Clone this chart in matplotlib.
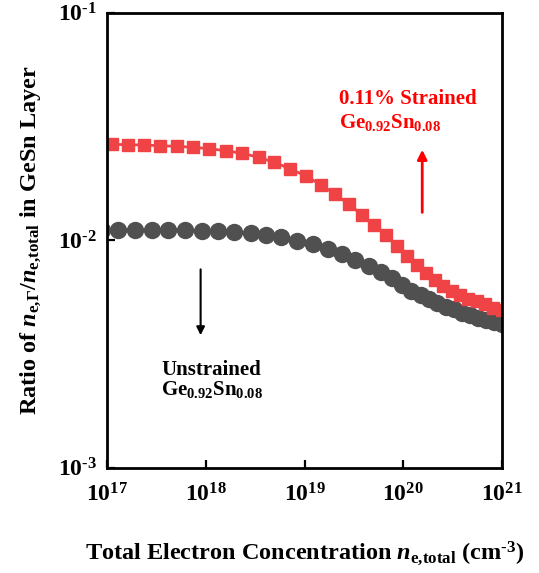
import numpy as np
import matplotlib
matplotlib.use('Agg')
import matplotlib.pyplot as plt
from matplotlib.ticker import FuncFormatter

# --- dados (n_e,total em cm^-3, razao n_e,G / n_e,total) ---
conc_tensionado = np.array([
    1.13e17, 1.64e17, 2.39e17, 3.47e17, 5.12e17, 7.48e17, 1.09e18, 1.60e18,
    2.34e18, 3.44e18, 4.94e18, 7.13e18, 1.03e19, 1.46e19, 2.02e19, 2.81e19,
    3.82e19, 5.06e19, 6.68e19, 8.59e19, 1.10e20, 1.37e20, 1.70e20, 2.08e20,
    2.55e20, 3.10e20, 3.76e20, 4.56e20, 5.55e20, 6.73e20, 8.17e20, 9.93e20])
razao_tensionado = np.array([
    0.02639, 0.02629, 0.02621, 0.02602, 0.02586, 0.02560, 0.02524, 0.02473,
    0.02409, 0.02314, 0.02199, 0.02062, 0.01915, 0.01754, 0.01596, 0.01442,
    0.01291, 0.01163, 0.01051, 0.00943, 0.00852, 0.00778, 0.00715, 0.00668,
    0.00629, 0.00598, 0.00574, 0.00554, 0.00538, 0.00522, 0.00506, 0.00493])

conc_relaxado = np.array([
    8.81e16, 1.30e17, 1.92e17, 2.84e17, 4.18e17, 6.17e17, 9.10e17, 1.32e18,
    1.93e18, 2.85e18, 4.05e18, 5.78e18, 8.45e18, 1.21e19, 1.73e19, 2.40e19,
    3.28e19, 4.45e19, 5.96e19, 7.69e19, 9.70e19, 1.21e20, 1.50e20, 1.82e20,
    2.22e20, 2.71e20, 3.27e20, 3.94e20, 4.74e20, 5.71e20, 6.89e20, 8.30e20,
    1.00e21])
razao_relaxado = np.array([
    0.01109, 0.01109, 0.01109, 0.01109, 0.01109, 0.01109, 0.01101, 0.01101,
    0.01090, 0.01072, 0.01054, 0.01030, 0.00995, 0.00959, 0.00915, 0.00870,
    0.00821, 0.00772, 0.00725, 0.00679, 0.00635, 0.00601, 0.00574, 0.00551,
    0.00530, 0.00511, 0.00496, 0.00481, 0.00469, 0.00457, 0.00446, 0.00437,
    0.00428])

x_ticks = [1e17, 1e18, 1e19, 1e20, 1e21]
y_ticks = [1e-3, 1e-2, 1e-1]
x_limites = (1e17, 1e21)
y_limites = (1e-3, 1e-1)

# --- estilo: Times (Liberation Serif) em negrito ---
plt.rcParams['font.family'] = ['Liberation Serif', 'DejaVu Serif']
plt.rcParams['font.weight'] = 'bold'
plt.rcParams['mathtext.fontset'] = 'custom'
plt.rcParams['mathtext.rm'] = 'Liberation Serif:bold'
plt.rcParams['mathtext.bf'] = 'Liberation Serif:bold'
plt.rcParams['mathtext.it'] = 'Liberation Serif:italic:bold'
plt.rcParams['axes.unicode_minus'] = False

cor_vermelha = '#F04346'
cor_cinza = '#505050'


def potencia_dez(v, pos):
    # expoente com hifen curto, como no original
    e = int(round(np.log10(v)))
    if e < 0:
        return r'$10^{\text{-}%d}$' % abs(e)
    return r'$10^{%d}$' % e


fig = plt.figure(figsize=(5.39, 5.73), dpi=100)
ax = fig.add_axes([0.1985, 0.1838, 0.7329, 0.7940])

ax.plot(conc_relaxado, razao_relaxado, color=cor_cinza, marker='o', markersize=11.5,
        linestyle='-', linewidth=2)
ax.plot(conc_tensionado, razao_tensionado, color=cor_vermelha, marker='s', markersize=9.3,
        linestyle='-', linewidth=2)

ax.set_xscale('log')
ax.set_yscale('log')
ax.set_xlim(*x_limites)
ax.set_ylim(*y_limites)
ax.set_xticks(x_ticks)
ax.set_yticks(y_ticks)
ax.xaxis.set_major_formatter(FuncFormatter(potencia_dez))
ax.yaxis.set_major_formatter(FuncFormatter(potencia_dez))
ax.minorticks_off()
ax.tick_params(which='major', direction='in', length=6, width=1.6, labelsize=17)
ax.tick_params(axis='x', pad=11)
ax.tick_params(axis='y', pad=7)
for s in ax.spines.values():
    s.set_linewidth(2.0)

ax.set_xlabel(r'Total Electron Concentration $\mathit{n}_{\mathrm{e{,}total}}$ (cm$^{\text{-}3}$)',
              fontsize=17.5, fontweight='bold', labelpad=24)
ax.set_ylabel(r'Ratio of $\mathit{n}_{\mathrm{e{,}\Gamma}}/\mathit{n}_{\mathrm{e{,}total}}$ in GeSn Layer',
              fontsize=17.5, fontweight='bold', labelpad=11)

# --- anotacoes ---
ax.text(0.588, 0.799, '0.11% Strained', transform=ax.transAxes, color='red',
        fontsize=15, fontweight='bold', va='baseline', ha='left')
ax.text(0.588, 0.747, r'Ge$_{0.92}$Sn$_{0.08}$', transform=ax.transAxes, color='red',
        fontsize=15, fontweight='bold', va='baseline', ha='left')
ax.annotate('', xy=(0.798, 0.705), xytext=(0.798, 0.555), xycoords='axes fraction',
            arrowprops=dict(arrowstyle='-|>', color='red', lw=2, mutation_scale=14))

ax.text(0.137, 0.204, 'Unstrained', transform=ax.transAxes, color='black',
        fontsize=15, fontweight='bold', va='baseline', ha='left')
ax.text(0.137, 0.160, r'Ge$_{0.92}$Sn$_{0.08}$', transform=ax.transAxes, color='black',
        fontsize=15, fontweight='bold', va='baseline', ha='left')
ax.annotate('', xy=(0.237, 0.285), xytext=(0.237, 0.442), xycoords='axes fraction',
            arrowprops=dict(arrowstyle='-|>', color='black', lw=1.5, mutation_scale=12))

fig.savefig('out.png', dpi=100)
plt.close(fig)
